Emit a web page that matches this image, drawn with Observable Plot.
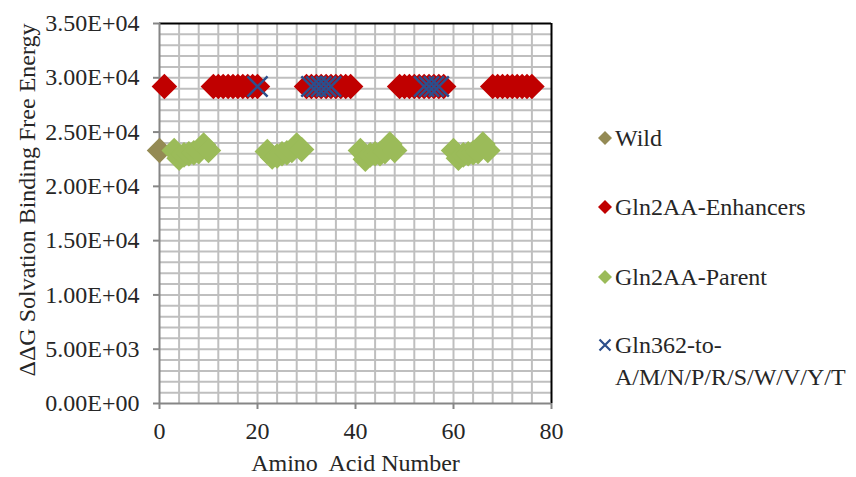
<!DOCTYPE html>
<html>
<head>
<meta charset="utf-8">
<script src="https://cdn.jsdelivr.net/npm/d3@7"></script>
<script src="https://cdn.jsdelivr.net/npm/@observablehq/plot@0.6"></script>
<style>
  body { margin: 0; background: #fff; }
  #chart { position: relative; width: 856px; height: 477px; font-family: "Liberation Serif", serif; color: #262626; }
  .leg { position: absolute; font-family: "Liberation Serif", serif; font-size: 24px; line-height: 32px; white-space: nowrap; }
  .ytitle { position: absolute; font-family: "Liberation Serif", serif; font-size: 24px; line-height: 28px; white-space: nowrap; transform-origin: center; }
</style>
</head>
<body>
<div id="chart"></div>
<script>
// Series: amino acid number vs. ΔΔG solvation binding free energy
const wildX = [0];
const wildY = [23300];

const enhancerX = [1,
  11, 12, 13, 14, 15, 16, 17, 18, 19, 20,
  30, 31, 32, 33, 34, 35, 36, 37, 38, 39,
  49, 50, 51, 52, 53, 54, 55, 56, 57, 58,
  68, 69, 70, 71, 72, 73, 74, 75, 76];
const enhancerY = [29200,
  29200, 29200, 29200, 29200, 29200, 29200, 29200, 29200, 29200, 29200,
  29200, 29200, 29200, 29200, 29200, 29200, 29200, 29200, 29200, 29200,
  29200, 29200, 29200, 29200, 29200, 29200, 29200, 29200, 29200, 29200,
  29200, 29200, 29200, 29200, 29200, 29200, 29200, 29200, 29200];

const parentX = [
  3, 4, 5, 6, 7, 8, 9, 10,
  22, 23, 24, 25, 26, 27, 28, 29,
  41, 42, 43, 44, 45, 46, 47, 48,
  60, 61, 62, 63, 64, 65, 66, 67];
const parentY = [
  23300, 22600, 22900, 23000, 23100, 23200, 23800, 23300,
  23200, 22700, 22800, 23000, 23100, 23300, 23800, 23400,
  23300, 22500, 22900, 23000, 23000, 23200, 23900, 23300,
  23300, 22600, 22900, 23000, 23100, 23200, 23900, 23300];

const glnX = [20, 31, 32, 33, 34, 35, 54, 55, 56, 57];
const glnY = [29200, 29200, 29200, 29200, 29200, 29200, 29200, 29200, 29200, 29200];

const xTicks = [0, 20, 40, 60, 80];
const yTicks = [0, 5000, 10000, 15000, 20000, 25000, 30000, 35000];
const xGrid = d3.range(4, 80, 4);
const yGrid = d3.range(1000, 35000, 1000);

const seriesNames = ["Wild", "Gln2AA-Enhancers", "Gln2AA-Parent", "Gln362-to-\nA/M/N/P/R/S/W/V/Y/T"];
const seriesColors = ["#948a54", "#c00000", "#9bbb59", "#2c4f8c"];

const xTitle = "Amino\u00A0 Acid Number";
const yTitle = "ΔΔG Solvation Binding Free Energy";

const rows = (xs, ys) => xs.map((x, i) => ({x, y: ys[i]}));
const wild = rows(wildX, wildY);
const enhancers = rows(enhancerX, enhancerY);
const parent = rows(parentX, parentY);
const gln362 = rows(glnX, glnY);

// Scientific notation with a two-digit exponent, e.g. 3.50E+04
const sci = d => {
  const [m, e] = d.toExponential(2).split("e");
  return m + "E" + e[0] + e.slice(1).padStart(2, "0");
};

const serifFont = "Liberation Serif, serif";
const textColor = "#262626";
const gridColor = "#bfbfbf";
const axisColor = "#868686";

const chart = Plot.plot({
  width: 856,
  height: 477,
  marginLeft: 159,
  marginRight: 305,
  marginTop: 23,
  marginBottom: 74,
  style: {fontFamily: serifFont, fontSize: "24px", color: textColor, background: "white", overflow: "visible"},
  x: {domain: [0, 80]},
  y: {domain: [0, 35000]},
  marks: [
    Plot.ruleX(xGrid, {stroke: gridColor, strokeWidth: 2}),
    Plot.ruleY(yGrid, {stroke: gridColor, strokeWidth: 2}),
    Plot.ruleY([35000], {stroke: "#000", strokeWidth: 2}),
    Plot.ruleX([80], {stroke: "#000", strokeWidth: 2}),
    Plot.ruleX([0], {stroke: axisColor, strokeWidth: 2}),
    Plot.ruleY([0], {stroke: axisColor, strokeWidth: 2}),
    Plot.axisX(xTicks, {tickSize: 6, tickPadding: 12, stroke: axisColor, strokeWidth: 2, fill: textColor, fontSize: 24, fontFamily: serifFont, label: null}),
    Plot.axisY(yTicks, {tickSize: 6, tickPadding: 14, stroke: axisColor, strokeWidth: 2, fill: textColor, fontSize: 24, fontFamily: serifFont, tickFormat: sci, label: null}),
    Plot.text([xTitle], {frameAnchor: "bottom", dy: 67, fontSize: 24, fontFamily: serifFont, fill: textColor}),
    Plot.dot(wild, {x: "x", y: "y", symbol: "diamond2", r: 11.5, fill: seriesColors[0]}),
    Plot.dot(enhancers, {x: "x", y: "y", symbol: "diamond2", r: 11.5, fill: seriesColors[1]}),
    Plot.dot(parent, {x: "x", y: "y", symbol: "diamond2", r: 11.5, fill: seriesColors[2]}),
    Plot.dot(gln362, {x: "x", y: "y", symbol: "times", r: 9.2, stroke: seriesColors[3], strokeWidth: 2.5})
  ]
});

const root = document.getElementById("chart");
root.appendChild(chart);
chart.style.position = "absolute";
chart.style.left = "0";
chart.style.top = "0";

// Vertical axis title, rotated about its own centre
const yt = document.createElement("div");
yt.className = "ytitle";
yt.textContent = yTitle;
root.appendChild(yt);
const ytW = yt.offsetWidth, ytH = yt.offsetHeight;
yt.style.left = (26 - ytW / 2) + "px";
yt.style.top = (200 - ytH / 2) + "px";
yt.style.transform = "rotate(-90deg)";

// Legend on the right
const legendTops = [138, 207, 277, 345];
const markerX = 605;
const textX = 615;
const ns = "http://www.w3.org/2000/svg";
seriesNames.forEach((name, i) => {
  const item = document.createElement("div");
  item.className = "leg";
  item.style.left = textX + "px";
  item.style.top = (legendTops[i] - 16) + "px";
  item.innerHTML = name.split("\n").join("<br>");
  root.appendChild(item);

  const svg = document.createElementNS(ns, "svg");
  svg.setAttribute("width", 16);
  svg.setAttribute("height", 16);
  svg.style.position = "absolute";
  svg.style.overflow = "visible";
  svg.style.left = (markerX - 8) + "px";
  svg.style.top = (legendTops[i] - 8) + "px";
  const p = document.createElementNS(ns, "path");
  if (i < 3) {
    p.setAttribute("d", "M8,1L15,8L8,15L1,8Z");
    p.setAttribute("fill", seriesColors[i]);
  } else {
    p.setAttribute("d", "M2.5,2.5L13.5,13.5M13.5,2.5L2.5,13.5");
    p.setAttribute("stroke", seriesColors[i]);
    p.setAttribute("stroke-width", 2.2);
  }
  svg.appendChild(p);
  root.appendChild(svg);
});
</script>
</body>
</html>
